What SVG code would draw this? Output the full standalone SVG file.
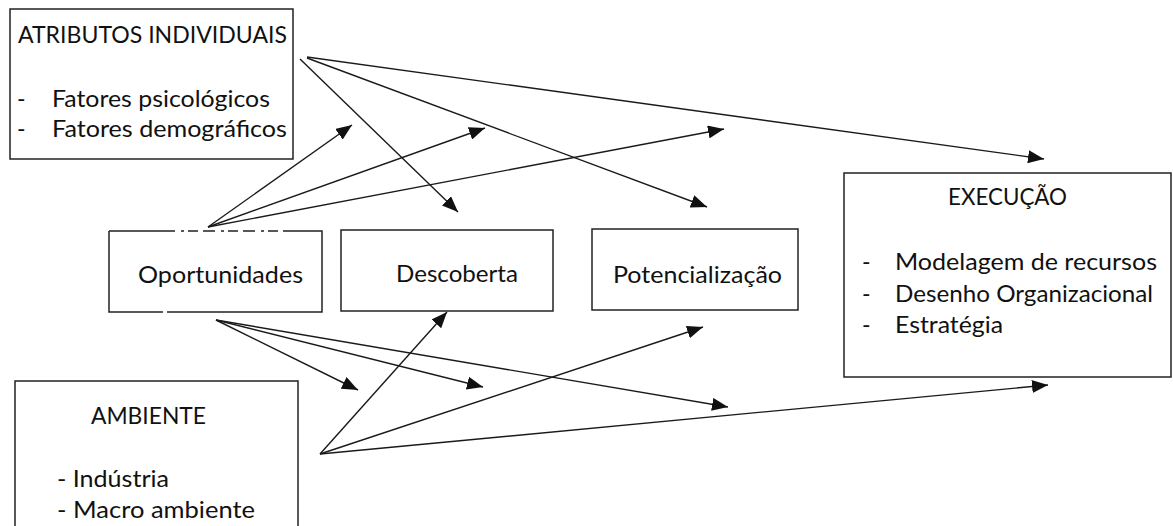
<svg xmlns="http://www.w3.org/2000/svg" width="1173" height="526" viewBox="0 0 1173 526">
<style>
.box{fill:#fff;stroke:#222;stroke-width:1.5}
.edge{fill:none;stroke:#222;stroke-width:1.5}
.t{font-family:Lato,"Liberation Sans",sans-serif;font-size:23px;fill:#111}
.c{stroke:#1a1a1a;stroke-width:1.4;fill:none;marker-end:url(#ah)}
</style>
<defs>
<marker id="ah" markerUnits="userSpaceOnUse" markerWidth="17" markerHeight="13" refX="16" refY="6.5" orient="auto">
<path d="M0,0 L16,6.5 L0,13 Z" fill="#111"/>
</marker>
</defs>
<rect width="1173" height="526" fill="#fff"/>
<g id="atributos">
<rect class="box" x="10" y="9" width="283" height="150"/>
<text class="t" x="18" y="43" textLength="269" lengthAdjust="spacingAndGlyphs">ATRIBUTOS INDIVIDUAIS</text>
<text class="t" x="17" y="107">-</text>
<text class="t" x="52" y="107" textLength="218" lengthAdjust="spacingAndGlyphs">Fatores psicológicos</text>
<text class="t" x="17" y="137">-</text>
<text class="t" x="52" y="137" textLength="235" lengthAdjust="spacingAndGlyphs">Fatores demográficos</text>
</g>
<g id="oportunidades">
<rect x="109" y="231" width="213" height="81" fill="#fff"/>
<path class="edge" d="M109,231 V312 H163 M167,312 H322 V231 H287 M163,231 H109"/>
<path class="edge" d="M163,231 H287" stroke-dasharray="12,6,3,4,10,5"/>
<text class="t" x="138" y="283" textLength="165" lengthAdjust="spacingAndGlyphs">Oportunidades</text>
</g>
<g id="descoberta">
<rect class="box" x="341" y="230" width="212" height="81"/>
<text class="t" x="396" y="282" textLength="122" lengthAdjust="spacingAndGlyphs">Descoberta</text>
</g>
<g id="potencializacao">
<rect class="box" x="592" y="229" width="206" height="81"/>
<text class="t" x="613" y="283" textLength="169" lengthAdjust="spacingAndGlyphs">Potencialização</text>
</g>
<g id="execucao">
<rect class="box" x="844" y="173" width="327" height="204"/>
<text class="t" x="948" y="205" textLength="119" lengthAdjust="spacingAndGlyphs">EXECUÇÃO</text>
<text class="t" x="862" y="270">-</text>
<text class="t" x="895" y="270" textLength="262" lengthAdjust="spacingAndGlyphs">Modelagem de recursos</text>
<text class="t" x="862" y="302">-</text>
<text class="t" x="895" y="302" textLength="258" lengthAdjust="spacingAndGlyphs">Desenho Organizacional</text>
<text class="t" x="862" y="333">-</text>
<text class="t" x="895" y="333" textLength="108" lengthAdjust="spacingAndGlyphs">Estratégia</text>
</g>
<g id="ambiente">
<rect class="box" x="15" y="381" width="283" height="160"/>
<text class="t" x="91" y="424" textLength="115" lengthAdjust="spacingAndGlyphs">AMBIENTE</text>
<text class="t" x="57" y="487" textLength="112" lengthAdjust="spacingAndGlyphs">- Indústria</text>
<text class="t" x="57" y="518" textLength="198" lengthAdjust="spacingAndGlyphs">- Macro ambiente</text>
</g>
<g id="connectors">
<line class="c" x1="307" y1="57" x2="1044" y2="159"/>
<line class="c" x1="307" y1="58" x2="707" y2="207"/>
<line class="c" x1="300" y1="59" x2="458" y2="212"/>
<line class="c" x1="208" y1="227" x2="352" y2="125"/>
<line class="c" x1="208" y1="227" x2="485" y2="128"/>
<line class="c" x1="208" y1="227" x2="724" y2="129"/>
<line class="c" x1="216" y1="320" x2="358" y2="390"/>
<line class="c" x1="216" y1="320" x2="483" y2="387"/>
<line class="c" x1="216" y1="320" x2="728" y2="407"/>
<line class="c" x1="320" y1="454" x2="447" y2="312"/>
<line class="c" x1="320" y1="454" x2="703" y2="327"/>
<line class="c" x1="320" y1="454" x2="1048" y2="385"/>
</g>
</svg>
